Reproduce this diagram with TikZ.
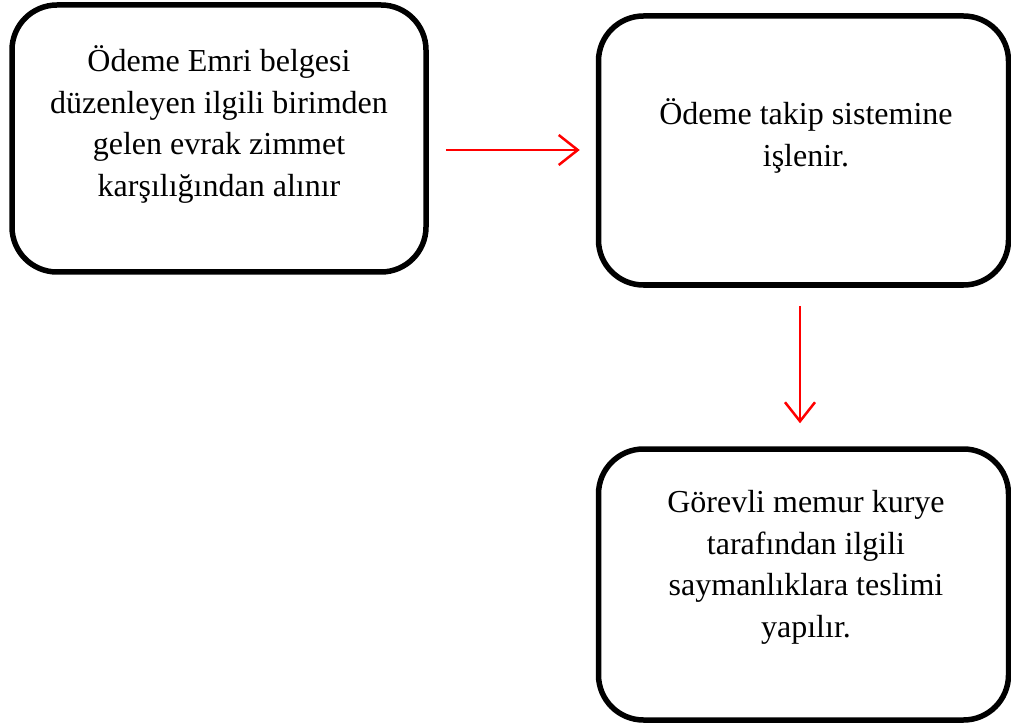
\documentclass[tikz,border=0pt]{standalone}
\usepackage{fontspec}
\setmainfont{Liberation Serif}
\usetikzlibrary{arrows.meta,calc}

\begin{document}
\begin{tikzpicture}[x=1pt,y=1pt,
  stepbox/.style={draw=black,line width=5.5pt,rounded corners=45pt,inner sep=0pt},
  steptext/.style={align=center,font=\fontsize{32}{41.5}\selectfont,inner sep=0pt},
  flow/.style={draw=red,line width=2.5pt,-{Straight Barb[length=19pt,width=30pt,line width=2.5pt]}}]
\useasboundingbox (0,0) rectangle (1011,724);

% process boxes
\node[stepbox,minimum width=414pt,minimum height=267pt] (box1) at (219,585.5) {};
\node[stepbox,minimum width=410pt,minimum height=269pt] (box2) at (803.5,573.5) {};
\node[stepbox,minimum width=410pt,minimum height=271pt] (box3) at (803.5,139.5) {};

% box texts
\node[steptext] (t1) at (219,599.5) {Ödeme Emri belgesi\\düzenleyen ilgili birimden\\gelen evrak zimmet\\karşılığından alınır};
\node[steptext] (t2) at (806,588) {Ödeme takip sistemine\\işlenir.};
\node[steptext] (t3) at (806,156.5) {Görevli memur kurye\\tarafından ilgili\\saymanlıklara teslimi\\yapılır.};

% connector end points, kept clear of the box borders
\coordinate (a1s) at ($(box1.east)+(17,-11.5)$);
\coordinate (a1e) at ($(box2.west)+(-16,0.5)$);
\coordinate (a2s) at ($(box2.south)+(-3.5,-18)$);
\coordinate (a2e) at ($(box3.north)+(-3.5,23)$);

\draw[flow] (a1s) -- (a1e |- a1s);
\draw[flow] (a2s) -- (a2e);
\end{tikzpicture}
\end{document}
